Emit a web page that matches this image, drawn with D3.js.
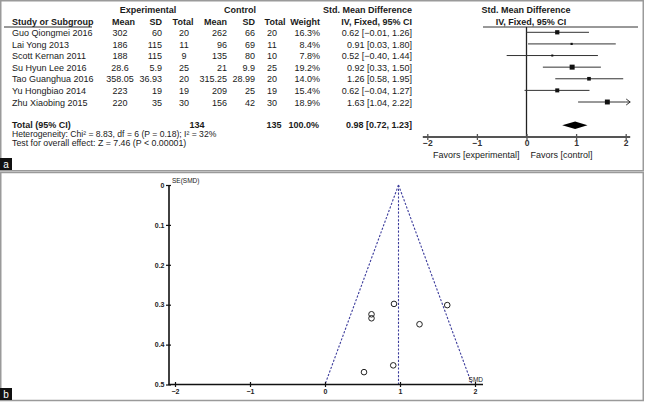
<!DOCTYPE html>
<html><head><meta charset="utf-8">
<script src="https://cdn.jsdelivr.net/npm/d3@7"></script>
<style>
html,body{margin:0;padding:0;background:#fff;}
svg{display:block;font-family:"Liberation Sans",Arial,sans-serif;}
</style></head>
<body><svg id="c" width="646" height="402"></svg>
<script>
// ---------- data ----------
const studies = ["Guo Qiongmei 2016","Lai Yong 2013","Scott Kernan 2011","Su Hyun Lee 2016","Tao Guanghua 2016","Yu Hongbiao 2014","Zhu Xiaobing 2015"];
const expMean = ["302","186","188","28.6","358.05","223","220"];
const expSD = ["60","115","115","5.9","36.93","19","35"];
const expTotal = [20,11,9,25,20,19,30];
const ctlMean = ["262","96","135","21","315.25","209","156"];
const ctlSD = ["66","69","80","9.9","28.99","25","42"];
const ctlTotal = [20,11,10,25,20,19,30];
const weight = [16.3,8.4,7.8,19.2,14.0,15.4,18.9];
const smd = [0.62,0.91,0.52,0.92,1.26,0.62,1.63];
const ciLow = [-0.01,0.03,-0.40,0.33,0.58,-0.04,1.04];
const ciHigh = [1.26,1.80,1.44,1.50,1.95,1.27,2.22];
const seSmd = [0.324,0.452,0.469,0.298,0.349,0.334,0.301];
const pooled = {est:0.98, lo:0.72, hi:1.23};
const forestTicks = [-2,-1,0,1,2];
const funnelXTicks = [-2,-1,0,1,2];
const funnelYTicks = [0,0.1,0.2,0.3,0.4,0.5];

const svg = d3.select("#c");
const ink = "#1a1a1a";
const fmt2 = d3.format(".2f");

// ---------- panel frames ----------
svg.append("rect").attr("x",0.75).attr("y",0.75).attr("width",642.5).attr("height",170)
  .attr("fill","none").attr("stroke","#9a9a9a").attr("stroke-width",1.5);
svg.append("rect").attr("x",0.75).attr("y",172.5).attr("width",642.5).attr("height",228)
  .attr("fill","none").attr("stroke","#9a9a9a").attr("stroke-width",1.5);

// ---------- table ----------
const fs = 9;
const rowY = d3.scalePoint().domain(d3.range(studies.length)).range([32.3,102]);
function txt(x,y,s,anchor,bold,size){
  return svg.append("text").attr("x",x).attr("y",y).text(s)
    .attr("text-anchor",anchor||"start").attr("font-size",size||fs)
    .attr("font-weight",bold?"bold":"normal").attr("fill",ink);
}
// headers
txt(148,13,"Experimental","middle",true);
txt(240,13,"Control","middle",true);
txt(412,13,"Std. Mean Difference","end",true);
txt(526,13,"Std. Mean Difference","middle",true);
txt(12,25,"Study or Subgroup","start",true);
txt(135,25,"Mean","end",true);
txt(162,25,"SD","end",true);
txt(183,25,"Total","middle",true);
txt(227,25,"Mean","end",true);
txt(255,25,"SD","end",true);
txt(275,25,"Total","middle",true);
txt(320,25,"Weight","end",true);
txt(412,25,"IV, Fixed, 95% CI","end",true);
txt(531,25,"IV, Fixed, 95% CI","middle",true);
svg.append("line").attr("x1",4).attr("x2",92).attr("y1",27).attr("y2",27).attr("stroke","#333").attr("stroke-width",1);
svg.append("line").attr("x1",483).attr("x2",638).attr("y1",27).attr("y2",27).attr("stroke","#333").attr("stroke-width",1);

studies.forEach((s,i)=>{
  const y = rowY(i)+3.6;
  txt(12,y,s);
  txt(120,y,expMean[i],"middle");
  txt(162,y,expSD[i],"end");
  txt(184,y,expTotal[i],"middle");
  txt(227,y,ctlMean[i],"end");
  txt(255,y,ctlSD[i],"end");
  txt(272,y,ctlTotal[i],"middle");
  txt(320,y,weight[i].toFixed(1)+"%","end");
  txt(412,y,fmt2(smd[i])+" ["+fmt2(ciLow[i])+", "+fmt2(ciHigh[i])+"]","end");
});
// total row
const totY = 128;
txt(12,totY,"Total (95% CI)","start",true);
txt(197,totY,d3.sum(expTotal),"middle",true);
txt(274,totY,d3.sum(ctlTotal),"middle",true);
txt(319,totY,"100.0%","end",true);
txt(412,totY,fmt2(pooled.est)+" ["+fmt2(pooled.lo)+", "+fmt2(pooled.hi)+"]","end",true);
txt(12,137,"Heterogeneity: Chi² = 8.83, df = 6 (P = 0.18); I² = 32%","start",false,8.6);
txt(12,146,"Test for overall effect: Z = 7.46 (P < 0.00001)","start",false,8.8);

// ---------- forest plot ----------
const fx = d3.scaleLinear().domain([-2,2]).range([427.3,625.7]);
const axisY = 137;
svg.append("line").attr("x1",fx(0)).attr("x2",fx(0)).attr("y1",27).attr("y2",axisY)
  .attr("stroke","#222").attr("stroke-width",1.3);
const boxSize = d3.scaleLinear().domain([0,20]).range([0,5.2]);
studies.forEach((s,i)=>{
  const y = rowY(i);
  const hi = Math.min(ciHigh[i],2);
  svg.append("line").attr("x1",fx(ciLow[i])).attr("x2",fx(hi)).attr("y1",y).attr("y2",y)
    .attr("stroke","#333").attr("stroke-width",1);
  if(ciHigh[i]>2){
    const xe = fx(2)+4.5;
    svg.append("line").attr("x1",fx(hi)).attr("x2",xe).attr("y1",y).attr("y2",y).attr("stroke","#333").attr("stroke-width",1);
    svg.append("path").attr("d",`M${xe-4},${y-3}L${xe},${y}L${xe-4},${y+3}`).attr("fill","none").attr("stroke","#333").attr("stroke-width",1);
  }
  const b = boxSize(weight[i]);
  svg.append("rect").attr("x",fx(smd[i])-b/2).attr("y",y-b/2).attr("width",b).attr("height",b).attr("fill","#111");
});
// diamond
const dY = 125.3, dH = 3.7;
svg.append("path").attr("d",`M${fx(pooled.lo)},${dY}L${fx(pooled.est)},${dY-dH}L${fx(pooled.hi)},${dY}L${fx(pooled.est)},${dY+dH}Z`).attr("fill","#000");
// axis
const fAxis = svg.append("g").attr("transform",`translate(0,${axisY})`)
  .call(d3.axisBottom(fx).tickValues(forestTicks).tickFormat(d3.format("d")).tickSize(0).tickPadding(3));
fAxis.select(".domain").attr("stroke","#555").attr("stroke-width",2).attr("d",`M${fx(-2)-4.5},0H${fx(2)+4.5}`);
fAxis.selectAll(".tick line").attr("y1",-3).attr("y2",3).attr("stroke","#555").attr("stroke-width",1.3);
fAxis.selectAll(".tick text").attr("font-size",8.5).attr("font-weight","bold").attr("fill","#333").attr("font-family","Liberation Sans,Arial,sans-serif");
txt(fx(0)-7,157.5,"Favors [experimental]","end");
txt(fx(0)+4,157.5,"Favors [control]","start");

// ---------- funnel plot ----------
const gx = d3.scaleLinear().domain([-2,2]).range([175,475]);
const gy = d3.scaleLinear().domain([0,0.5]).range([185,384.5]);
const funnelCol = "#3c3c9c";
const seMax = 0.5;
[[pooled.est,0,pooled.est,seMax],[pooled.est,0,pooled.est-1.96*seMax,seMax],[pooled.est,0,pooled.est+1.96*seMax,seMax]].forEach(l=>{
  svg.append("line").attr("x1",gx(l[0])).attr("y1",gy(l[1])).attr("x2",gx(l[2])).attr("y2",gy(l[3]))
    .attr("stroke",funnelCol).attr("stroke-width",1.1).attr("stroke-dasharray","2.2,1.6");
});
const yAx = svg.append("g").attr("transform",`translate(168.5,0)`)
  .call(d3.axisLeft(gy).tickValues(funnelYTicks).tickFormat(d=>d===0?"0":d3.format(".1f")(d)).tickSize(0).tickPadding(4));
yAx.select(".domain").attr("stroke","#111").attr("stroke-width",1.6);
yAx.selectAll(".tick line").attr("x1",-2.5).attr("x2",2.5).attr("stroke","#111").attr("stroke-width",1.2);
yAx.selectAll(".tick text").attr("font-size",7).attr("font-weight","bold").attr("fill","#222").attr("font-family","Liberation Sans,Arial,sans-serif");
const xAx = svg.append("g").attr("transform",`translate(0,384.5)`)
  .call(d3.axisBottom(gx).tickValues(funnelXTicks).tickFormat(d3.format("d")).tickSize(0).tickPadding(5));
xAx.select(".domain").attr("stroke","#111").attr("stroke-width",1.6).attr("d",`M168.5,0H483`);
xAx.selectAll(".tick line").attr("y1",-2.5).attr("y2",2.5).attr("stroke","#111").attr("stroke-width",1.2);
xAx.selectAll(".tick text").attr("font-size",7).attr("font-weight","bold").attr("fill","#222").attr("font-family","Liberation Sans,Arial,sans-serif");
txt(172,183,"SE(SMD)","start",false,6.5);
txt(483,382,"SMD","end",false,6.5);
svg.append("g").selectAll("circle").data(studies).join("circle")
  .attr("cx",(d,i)=>gx(smd[i])).attr("cy",(d,i)=>gy(seSmd[i])).attr("r",2.8)
  .attr("fill","none").attr("stroke","#222").attr("stroke-width",1);

// ---------- panel labels ----------
[["a",158],["b",388]].forEach(p=>{
  svg.append("rect").attr("x",0).attr("y",p[1]).attr("width",12).attr("height",12).attr("fill","#111");
  svg.append("text").attr("x",6).attr("y",p[1]+9.5).attr("text-anchor","middle").attr("font-size",10)
    .attr("fill","#fff").text(p[0]);
});
</script></body></html>
